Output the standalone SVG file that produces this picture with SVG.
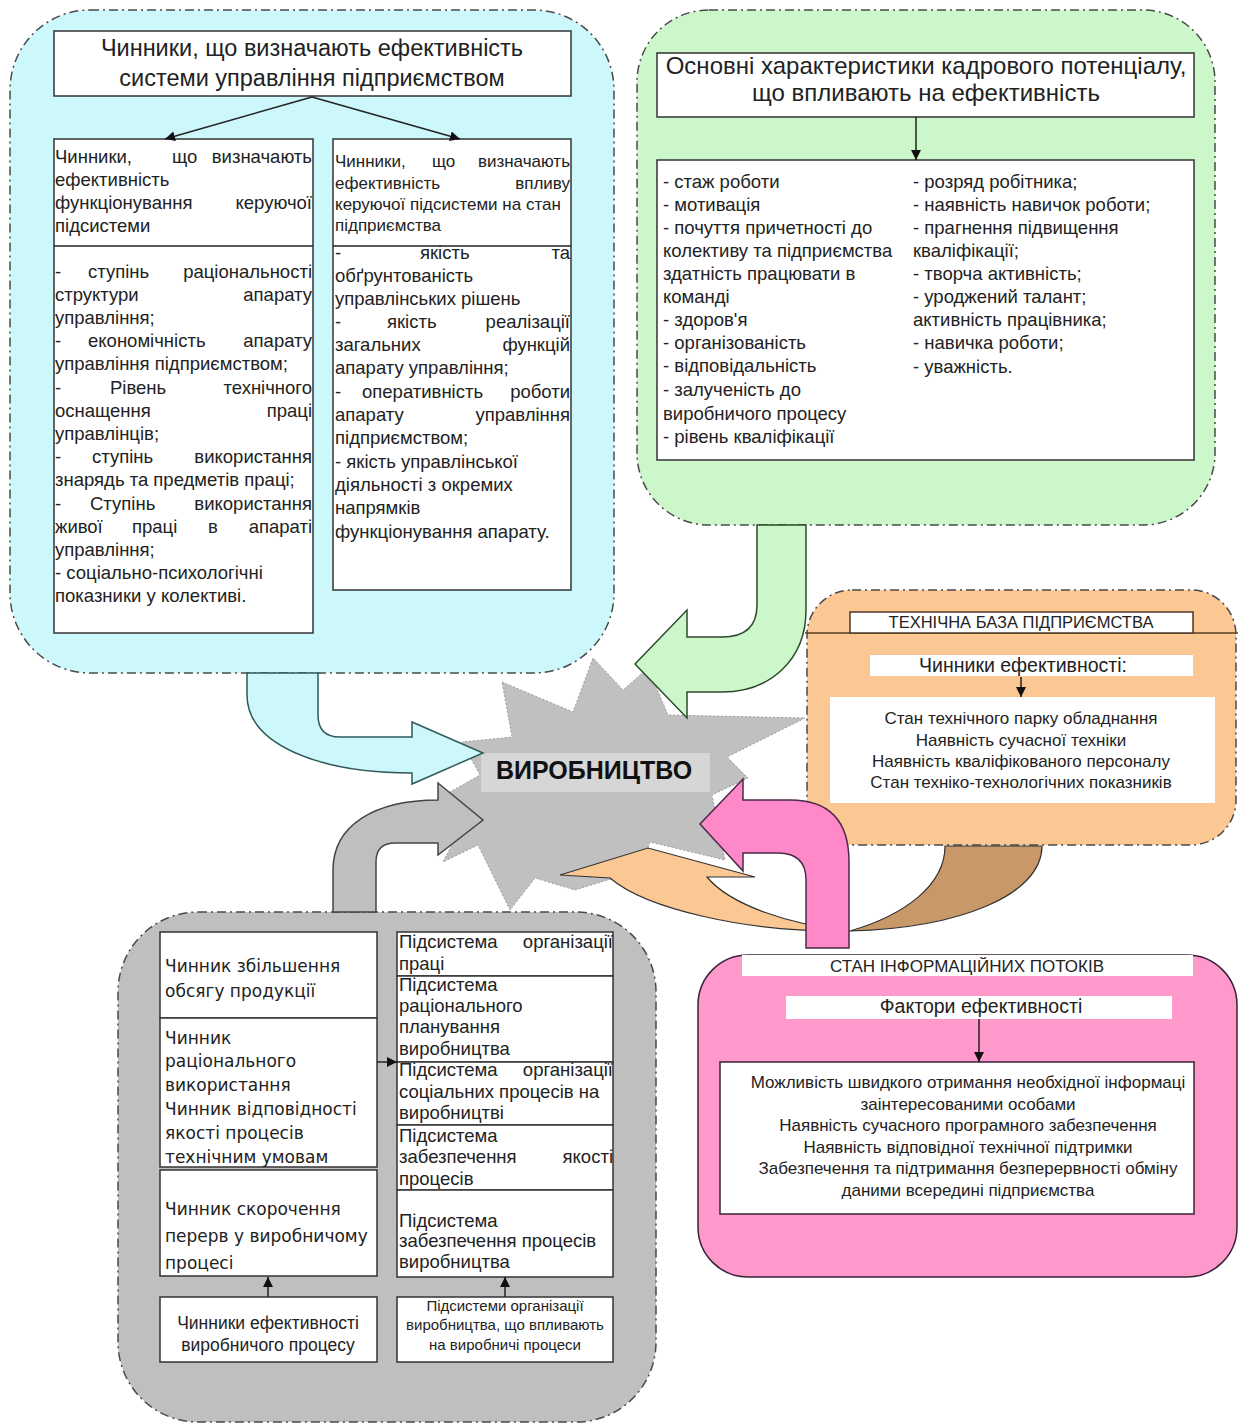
<svg xmlns="http://www.w3.org/2000/svg" width="1241" height="1427" viewBox="0 0 1241 1427">
<defs>
<style>
.t{font-family:"Liberation Sans",Arial,sans-serif;fill:#222;font-size:18.5px}
.t22{font-size:23.5px}
.t24{font-size:24px}
.t15{font-size:17px}
.t14{font-size:17px}
.t13{font-size:15px}
.t16{font-size:17.5px}
.t19{font-size:19.5px}
.d{font-family:"DejaVu Sans",Verdana,sans-serif;fill:#222;font-size:17px}
.m{text-anchor:middle}
.e{text-anchor:end}
.grp{stroke:#4a4a4a;stroke-width:1.5;stroke-dasharray:9 4 2 4}
.box{fill:#fff;stroke:#333;stroke-width:1.5}
.wb{fill:#fff;stroke:none}
.ln{stroke:#222;stroke-width:1.5;fill:none}
</style>
<marker id="ah" markerUnits="userSpaceOnUse" markerWidth="11" markerHeight="11" refX="10" refY="5" orient="auto">
<path d="M0,0 L10,5 L0,10 Z" fill="#111"/>
</marker>
</defs>
<rect width="1241" height="1427" fill="#fff"/>

<!-- central star -->
<g id="production">
<polygon points="502,682 573,712 593,658 623,690 648,668 668,715 805,718 727,757 748,778 712,795 725,860 650,842 640,870 575,890 535,878 510,910 478,845 443,862 470,810 450,792 480,775 462,742 512,737" fill="#c0c0c0" stroke="#9a9a9a" stroke-width="1" stroke-dasharray="2 2"/>
<rect x="481" y="753" width="229" height="39" fill="#d6d6d6"/>
<text x="594" y="779" class="m" style="font-family:'Liberation Sans',Arial,sans-serif;font-weight:bold;font-size:25px;fill:#111">ВИРОБНИЦТВО</text>
</g>

<!-- cyan group -->
<g id="management">
<rect x="10" y="10" width="604" height="663" rx="80" fill="#cdf8fb" class="grp"/>
<rect x="54" y="31" width="517" height="65" class="box"/>
<text class="t t22 m" x="312" y="56">Чинники, що визначають ефективність</text>
<text class="t t22 m" x="312" y="86">системи управління підприємством</text>
<rect x="54" y="139" width="259" height="494" class="box"/>
<line x1="54" y1="246" x2="313" y2="246" class="ln"/>
<text class="t" x="55" y="163">Чинники,</text><text class="t" x="172" y="163">що</text><text class="t e" x="312" y="163">визначають</text>
<text class="t" x="55" y="186">ефективність</text>
<text class="t" x="55" y="209">функціонування</text><text class="t e" x="312" y="209">керуючої</text>
<text class="t" x="55" y="232">підсистеми</text>
<text class="t" x="55" y="278">-</text><text class="t" x="88" y="278">ступінь</text><text class="t e" x="312" y="278">раціональності</text>
<text class="t" x="55" y="301">структури</text><text class="t e" x="312" y="301">апарату</text>
<text class="t" x="55" y="324">управління;</text>
<text class="t" x="55" y="347">-</text><text class="t" x="88" y="347">економічність</text><text class="t e" x="312" y="347">апарату</text>
<text class="t" x="55" y="370">управління підприємством;</text>
<text class="t" x="55" y="394">-</text><text class="t" x="110" y="394">Рівень</text><text class="t e" x="312" y="394">технічного</text>
<text class="t" x="55" y="417">оснащення</text><text class="t e" x="312" y="417">праці</text>
<text class="t" x="55" y="440">управлінців;</text>
<text class="t" x="55" y="463">-</text><text class="t" x="92" y="463">ступінь</text><text class="t e" x="312" y="463">використання</text>
<text class="t" x="55" y="486">знарядь та предметів праці;</text>
<text class="t" x="55" y="510">-</text><text class="t" x="90" y="510">Ступінь</text><text class="t e" x="312" y="510">використання</text>
<text class="t" x="55" y="533">живої</text><text class="t" x="132" y="533">праці</text><text class="t" x="208" y="533">в</text><text class="t e" x="312" y="533">апараті</text>
<text class="t" x="55" y="556">управління;</text>
<text class="t" x="55" y="579">- соціально-психологічні</text>
<text class="t" x="55" y="602">показники у колективі.</text>
<rect x="333" y="139" width="238" height="451" class="box"/>
<line x1="333" y1="246" x2="571" y2="246" class="ln"/>
<text class="t t14" x="335" y="167">Чинники,</text><text class="t t14" x="432" y="167">що</text><text class="t t14 e" x="570" y="167">визначають</text>
<text class="t t14" x="335" y="189">ефективність</text><text class="t t14 e" x="570" y="189">впливу</text>
<text class="t t14" x="335" y="210">керуючої підсистеми на стан</text>
<text class="t t14" x="335" y="231">підприємства</text>
<text class="t" x="335" y="259">-</text><text class="t" x="420" y="259">якість</text><text class="t e" x="570" y="259">та</text>
<text class="t" x="335" y="282">обґрунтованість</text>
<text class="t" x="335" y="305">управлінських рішень</text>
<text class="t" x="335" y="328">-</text><text class="t" x="387" y="328">якість</text><text class="t e" x="570" y="328">реалізації</text>
<text class="t" x="335" y="351">загальних</text><text class="t e" x="570" y="351">функцій</text>
<text class="t" x="335" y="374">апарату управління;</text>
<text class="t" x="335" y="398">-</text><text class="t" x="362" y="398">оперативність</text><text class="t e" x="570" y="398">роботи</text>
<text class="t" x="335" y="421">апарату</text><text class="t e" x="570" y="421">управління</text>
<text class="t" x="335" y="444">підприємством;</text>
<text class="t" x="335" y="468">- якість управлінської</text>
<text class="t" x="335" y="491">діяльності з окремих</text>
<text class="t" x="335" y="514">напрямків</text>
<text class="t" x="335" y="538">функціонування апарату.</text>
</g>

<!-- green group -->
<g id="personnel">
<rect x="637" y="10" width="578" height="515" rx="72" fill="#ccf7cb" class="grp"/>
<rect x="657" y="53" width="537" height="64" class="box"/>
<text class="t t24 m" x="926" y="74">Основні характеристики кадрового потенціалу,</text>
<text class="t t24 m" x="926" y="101">що впливають на ефективність</text>
<rect x="657" y="160" width="537" height="300" class="box"/>
<text class="t" x="663" y="188">- стаж роботи</text>
<text class="t" x="663" y="211">- мотивація</text>
<text class="t" x="663" y="234">- почуття причетності до</text>
<text class="t" x="663" y="257">колективу та підприємства</text>
<text class="t" x="663" y="280">здатність працювати в</text>
<text class="t" x="663" y="303">команді</text>
<text class="t" x="663" y="326">- здоров'я</text>
<text class="t" x="663" y="349">- організованість</text>
<text class="t" x="663" y="372">- відповідальність</text>
<text class="t" x="663" y="396">- залученість до</text>
<text class="t" x="663" y="420">виробничого процесу</text>
<text class="t" x="663" y="443">- рівень кваліфікації</text>
<text class="t" x="913" y="188">- розряд робітника;</text>
<text class="t" x="913" y="211">- наявність навичок роботи;</text>
<text class="t" x="913" y="234">- прагнення підвищення</text>
<text class="t" x="913" y="257">кваліфікації;</text>
<text class="t" x="913" y="280">- творча активність;</text>
<text class="t" x="913" y="303">- уроджений талант;</text>
<text class="t" x="913" y="326">активність працівника;</text>
<text class="t" x="913" y="349">- навичка роботи;</text>
<text class="t" x="913" y="373">- уважність.</text>
</g>

<!-- orange group -->
<g id="technical">
<rect x="807" y="590" width="429" height="255" rx="45" fill="#fbc894" class="grp"/>
<line x1="805" y1="633" x2="1238" y2="633" stroke="#5a4020" stroke-width="1.5"/>
<rect x="850" y="612" width="343" height="21" fill="#fff" stroke="#4a3a2a" stroke-width="1.5"/>
<text class="t m" x="1021" y="628" style="font-size:16.5px">ТЕХНІЧНА БАЗА ПІДПРИЄМСТВА</text>
<rect x="870" y="655" width="323" height="21" class="wb"/>
<text class="t t19 m" x="1023" y="672">Чинники ефективності:</text>
<rect x="830" y="697" width="385" height="106" class="wb"/>
<text class="t t15 m" x="1021" y="724">Стан технічного парку обладнання</text>
<text class="t t15 m" x="1021" y="746">Наявність сучасної техніки</text>
<text class="t t15 m" x="1021" y="767">Наявність кваліфікованого персоналу</text>
<text class="t t15 m" x="1021" y="788">Стан техніко-технологічних показників</text>
</g>

<!-- pink group -->
<g id="information">
<rect x="698" y="955" width="539" height="322" rx="50" fill="#ff99cc" stroke="#3a2238" stroke-width="1.5"/>
<rect x="742" y="955" width="451" height="21" class="wb"/>
<text class="t t15 m" x="967" y="972">СТАН ІНФОРМАЦІЙНИХ ПОТОКІВ</text>
<rect x="786" y="996" width="386" height="23" class="wb"/>
<text class="t t19 m" x="981" y="1013">Фактори ефективності</text>
<rect x="720" y="1062" width="474" height="152" fill="#fff" stroke="#3a2238" stroke-width="1.5"/>
<text class="t t15 m" x="968" y="1088">Можливість швидкого отримання необхідної інформаці</text>
<text class="t t15 m" x="968" y="1110">заінтересованими особами</text>
<text class="t t15 m" x="968" y="1131">Наявність сучасного програмного забезпечення</text>
<text class="t t15 m" x="968" y="1153">Наявність відповідної технічної підтримки</text>
<text class="t t15 m" x="968" y="1174">Забезпечення та підтримання безперервності обміну</text>
<text class="t t15 m" x="968" y="1196">даними всередині підприємства</text>
</g>

<!-- gray group -->
<g id="process">
<rect x="118" y="912" width="538" height="510" rx="80" fill="#bfbfbf" class="grp"/>
<rect x="160" y="932" width="217" height="86" class="box"/>
<text class="d" x="165" y="972">Чинник збільшення</text>
<text class="d" x="165" y="997">обсягу продукції</text>
<rect x="160" y="1018" width="217" height="149" class="box"/>
<text class="d" x="165" y="1044">Чинник</text>
<text class="d" x="165" y="1067">раціонального</text>
<text class="d" x="165" y="1091">використання</text>
<text class="d" x="165" y="1115">Чинник відповідності</text>
<text class="d" x="165" y="1139">якості процесів</text>
<text class="d" x="165" y="1163">технічним умовам</text>
<rect x="160" y="1170" width="217" height="106" class="box"/>
<text class="d" x="165" y="1215">Чинник скорочення</text>
<text class="d" x="165" y="1242">перерв у виробничому</text>
<text class="d" x="165" y="1269">процесі</text>
<rect x="397" y="932" width="216" height="44" class="box"/>
<text class="t" x="399" y="948">Підсистема</text><text class="t e" x="613" y="948">організації</text>
<text class="t" x="399" y="970">праці</text>
<rect x="397" y="976" width="216" height="86" class="box"/>
<text class="t" x="399" y="991">Підсистема</text>
<text class="t" x="399" y="1012">раціонального</text>
<text class="t" x="399" y="1033">планування</text>
<text class="t" x="399" y="1055">виробництва</text>
<rect x="397" y="1062" width="216" height="63" class="box"/>
<text class="t" x="399" y="1076">Підсистема</text><text class="t e" x="613" y="1076">організації</text>
<text class="t" x="399" y="1098">соціальних процесів на</text>
<text class="t" x="399" y="1119">виробництві</text>
<rect x="397" y="1125" width="216" height="65" class="box"/>
<text class="t" x="399" y="1142">Підсистема</text>
<text class="t" x="399" y="1163">забезпечення</text><text class="t e" x="613" y="1163">якості</text>
<text class="t" x="399" y="1185">процесів</text>
<rect x="397" y="1190" width="216" height="87" class="box"/>
<text class="t" x="399" y="1227">Підсистема</text>
<text class="t" x="399" y="1247">забезпечення процесів</text>
<text class="t" x="399" y="1268">виробництва</text>
<rect x="160" y="1297" width="217" height="65" class="box"/>
<text class="t t16 m" x="268" y="1329">Чинники ефективності</text>
<text class="t t16 m" x="268" y="1351">виробничого процесу</text>
<rect x="397" y="1297" width="216" height="65" class="box"/>
<text class="t t13 m" x="505" y="1311">Підсистеми організації</text>
<text class="t t13 m" x="505" y="1330">виробництва, що впливають</text>
<text class="t t13 m" x="505" y="1350">на виробничі процеси</text>
</g>

<!-- connectors -->
<g id="connectors">
<line x1="312" y1="97" x2="165" y2="139" class="ln" marker-end="url(#ah)"/>
<line x1="312" y1="97" x2="460" y2="139" class="ln" marker-end="url(#ah)"/>
<line x1="916" y1="117" x2="916" y2="160" class="ln" marker-end="url(#ah)"/>
<line x1="1021" y1="677" x2="1021" y2="697" class="ln" marker-end="url(#ah)"/>
<line x1="979" y1="1019" x2="979" y2="1062" class="ln" marker-end="url(#ah)"/>
<line x1="377" y1="1062" x2="397" y2="1062" class="ln" marker-end="url(#ah)"/>
<line x1="268" y1="1297" x2="268" y2="1277" class="ln" marker-end="url(#ah)"/>
<line x1="505" y1="1297" x2="505" y2="1277" class="ln" marker-end="url(#ah)"/>
<path d="M247,673 L247,695 C247,745 320,773 412,773 L412,784 L483,753 L412,722 L412,737 L340,737 Q318,737 318,715 L318,673 Z" fill="#cdf8fb" stroke="#2f5a5a" stroke-width="1.5"/>
<path d="M757,525 L757,605 Q757,637 722,637 L687,637 L687,610 L635,664 L687,718 L687,692 L722,692 C770,692 806,660 806,610 L806,525 Z" fill="#ccf7cb" stroke="#2d4a2d" stroke-width="1.5"/>
<path d="M333,912 L333,870 C333,825 375,800 438,800 L438,783 L483,820 L438,855 L438,843 L395,843 Q376,843 376,862 L376,912 Z" fill="#bfbfbf" stroke="#444" stroke-width="1.5"/>
<path d="M945,846 L1042,846 C1042,895 960,928 850,931 C905,915 945,885 945,846 Z" fill="#c89868" stroke="#333" stroke-width="1.2"/>
<path d="M850,931 C745,933 645,908 610,878 L560,875 L648,848 L755,877 L707,877 C730,905 790,925 850,931 Z" fill="#fbc894" stroke="#333" stroke-width="1.2"/>
<path d="M743,779 L700,824 L743,871 L743,853 L778,853 Q806,853 806,880 L806,948 L849,948 L849,862 Q849,800 790,800 L743,800 Z" fill="#ff88c8" stroke="#4a2a48" stroke-width="1.5"/>
</g>
</svg>
